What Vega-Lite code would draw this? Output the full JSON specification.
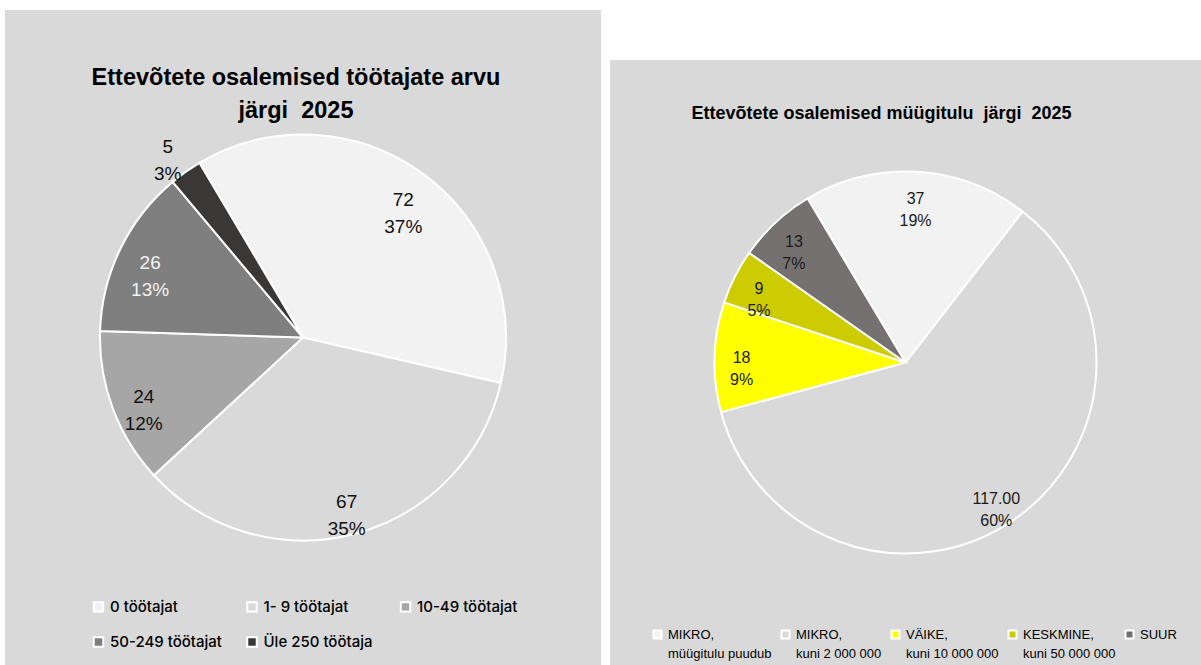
{
  "$schema": "https://vega.github.io/schema/vega-lite/v6.json",
  "background": "white",
  "padding": {"left": 5, "top": 10, "right": 0, "bottom": 0},
  "config": {"view": {"stroke": null}},
  "spacing": 9,
  "resolve": {"scale": {"color": "independent", "theta": "independent"}, "legend": {"color": "independent"}},
  "hconcat": [
    {
      "width": 596,
      "height": 655,
      "view": {"fill": "#d9d9d9", "stroke": null},
      "title": {
        "text": ["Ettevõtete osalemised töötajate arvu", "järgi\u00a0 2025"],
        "orient": "top", "anchor": "middle", "frame": "group",
        "offset": -112, "dx": -7, "fontSize": 23.5, "font": "Liberation Sans", "fontWeight": "bold",
        "color": "#000000", "lineHeight": 33
      },
      "data": {"values": [
        {"kat": "0 töötajat", "n": 72, "nr": 1},
        {"kat": "1- 9 töötajat", "n": 67, "nr": 2},
        {"kat": "10-49 töötajat", "n": 24, "nr": 3},
        {"kat": "50-249 töötajat", "n": 26, "nr": 4},
        {"kat": "Üle 250 töötaja", "n": 5, "nr": 5}
      ]},
      "transform": [
        {"joinaggregate": [{"op": "sum", "field": "n", "as": "total"}]},
        {"calculate": "format(datum.n, 'd') + '\\n' + format(round(datum.n / datum.total * 100), 'd') + '%'", "as": "label"}
      ],
      "encoding": {
        "theta": {"field": "n", "type": "quantitative", "stack": true, "scale": {"range": [-0.535, 5.748]}},
        "order": {"field": "nr", "type": "quantitative"}
      },
      "layer": [
        {
          "mark": {"type": "arc", "outerRadius": 203, "stroke": "white", "strokeWidth": 2},
          "encoding": {
            "color": {
              "field": "kat", "type": "nominal",
              "scale": {
                "domain": ["0 töötajat", "1- 9 töötajat", "10-49 töötajat", "50-249 töötajat", "Üle 250 töötaja"],
                "range": ["#f2f2f2", "#d9d9d9", "#a6a6a6", "#7f7f7f", "#3a3836"]
              },
              "legend": {
                "title": null, "orient": "none", "legendX": 86, "legendY": 589,
                "direction": "horizontal",
                "columns": 3, "gridAlign": "all", "columnPadding": 20.5, "rowPadding": 16.5,
                "symbolType": "square", "symbolSize": 90, "symbolStrokeColor": "white", "symbolStrokeWidth": 2,
                "labelFont": "Inter", "labelFontSize": 15, "labelFontWeight": 500, "labelColor": "#000000", "labelOffset": 4,
                "padding": 0
              }
            }
          }
        },
        {
          "mark": {"type": "text", "radius": {"expr": "datum.n < 10 ? 234 : 170"}, "fontSize": 19, "font": "Liberation Sans", "lineHeight": 27, "lineBreak": "\n", "align": "center", "baseline": "middle"},
          "encoding": {
            "text": {"field": "label", "type": "nominal"},
            "detail": {"field": "kat", "type": "nominal"},
            "color": {"condition": {"test": "datum.nr == 4", "value": "#f2f2f2"}, "value": "#111111"}
          }
        }
      ]
    },
    {
      "spacing": 0,
      "vconcat": [
        {
          "width": 591,
          "height": 50,
          "view": {"fill": null, "stroke": null},
          "data": {"values": []},
          "mark": {"type": "point", "opacity": 0},
          "encoding": {}
        },
        {
          "width": 591,
          "height": 605,
          "view": {"fill": "#d9d9d9", "stroke": null},
          "title": {
            "text": "Ettevõtete osalemised müügitulu\u00a0 järgi\u00a0 2025",
            "orient": "top", "anchor": "middle", "frame": "group",
            "offset": -63, "dx": -24, "fontSize": 18, "font": "Liberation Sans", "fontWeight": "bold",
            "color": "#000000"
          },
          "data": {"values": [
            {"segment": "MIKRO,\nmüügitulu puudub", "n": 37, "nr": 1},
            {"segment": "MIKRO,\nkuni 2 000 000", "n": 117, "nr": 2},
            {"segment": "VÄIKE,\nkuni 10 000 000", "n": 18, "nr": 3},
            {"segment": "KESKMINE,\nkuni 50 000 000", "n": 9, "nr": 4},
            {"segment": "SUUR", "n": 13, "nr": 5}
          ]},
          "transform": [
            {"joinaggregate": [{"op": "sum", "field": "n", "as": "total"}]},
            {"calculate": "(datum.nr == 2 ? format(datum.n, '.2f') : format(datum.n, 'd')) + '\\n' + format(round(datum.n / datum.total * 100), 'd') + '%'", "as": "label"}
          ],
          "encoding": {
            "theta": {"field": "n", "type": "quantitative", "stack": true, "scale": {"range": [-0.538, 5.745]}},
            "order": {"field": "nr", "type": "quantitative"}
          },
          "layer": [
            {
              "mark": {"type": "arc", "outerRadius": 191, "stroke": "white", "strokeWidth": 2},
              "encoding": {
                "color": {
                  "field": "segment", "type": "nominal",
                  "scale": {
                    "domain": ["MIKRO,\nmüügitulu puudub", "MIKRO,\nkuni 2 000 000", "VÄIKE,\nkuni 10 000 000", "KESKMINE,\nkuni 50 000 000", "SUUR"],
                    "range": ["#f2f2f2", "#d9d9d9", "#ffff00", "#cccc00", "#767171"]
                  },
                  "legend": {
                    "title": null, "orient": "none", "legendX": 41, "legendY": 618,
                    "direction": "horizontal",
                    "columns": 5, "gridAlign": "each", "columnPadding": 5,
                    "symbolType": "square", "symbolSize": 64, "symbolStrokeColor": "white", "symbolStrokeWidth": 2,
                    "labelFont": "Liberation Sans", "labelFontSize": 13, "labelColor": "#000000", "labelOffset": 4,
                    "labelBaseline": "alphabetic",
                    "labelExpr": "indexof(datum.label, '\\n') >= 0 ? split(datum.label, '\\n') : [datum.label, '\u00a0']",
                    "padding": 0,
                    "encode": {"labels": {"update": {"lineHeight": {"value": 19}, "dy": {"value": 4.5}}}}
                  }
                }
              }
            },
            {
              "mark": {"type": "text", "radius": 164, "fontSize": 16, "font": "Liberation Sans", "lineHeight": 22, "lineBreak": "\n", "align": "center", "baseline": "middle", "color": "#1a1a1a"},
              "encoding": {
                "text": {"field": "label", "type": "nominal"},
                "detail": {"field": "segment", "type": "nominal"}
              }
            }
          ]
        }
      ]
    }
  ]
}
